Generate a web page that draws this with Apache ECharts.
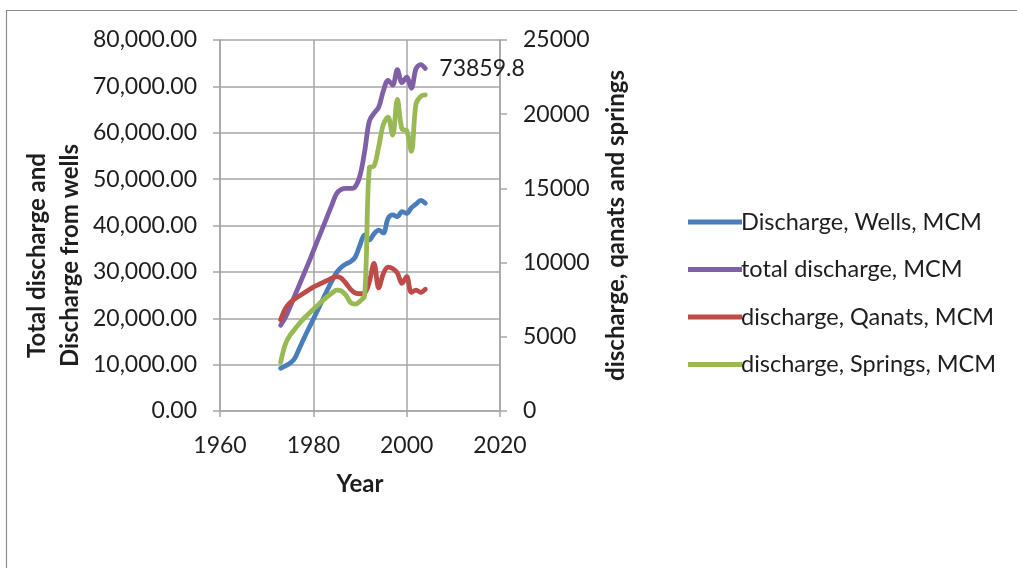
<!DOCTYPE html>
<html>
<head>
<meta charset="utf-8">
<script src="https://cdn.jsdelivr.net/npm/echarts@6/dist/echarts.min.js"></script>
<style>
  html, body { margin: 0; padding: 0; background: #fff; }
  #chart { width: 1017px; height: 568px; }
</style>
</head>
<body>
<div id="chart"></div>
<script>
// Years of record
const years = [1973, 1974, 1975, 1976, 1977, 1978, 1979, 1980, 1981, 1982,
  1983, 1984, 1985, 1986, 1987, 1988, 1989, 1990, 1991, 1992,
  1993, 1994, 1995, 1996, 1997, 1998, 1999, 2000, 2001, 2002, 2003, 2004];

// Discharge from wells, MCM (left axis)
const wells = [9200, 9700, 10300, 11300, 13500, 15700, 17800, 19800, 21900, 24000,
  26100, 28100, 29900, 31000, 31700, 32200, 33200, 35800, 38000, 36900,
  38200, 39000, 38400, 41500, 42300, 41900, 43000, 42600, 43800, 44600, 45400, 44800];

// Total discharge, MCM (left axis)
const total = [18500, 20200, 22400, 24800, 27200, 29600, 32000, 34500, 37000, 39500,
  42000, 44500, 46900, 47800, 48000, 48000, 48400, 50800, 56000, 62500,
  64200, 65500, 69000, 71300, 70300, 73600, 70800, 72000, 69600, 73800, 74700, 73859.8];

// Discharge from qanats, MCM (right axis)
const qanats = [6150, 6900, 7300, 7550, 7750, 7950, 8150, 8350, 8500, 8650,
  8800, 8950, 9050, 8950, 8600, 8200, 7950, 7900, 7950, 8700,
  9950, 8300, 9250, 9700, 9600, 9300, 8600, 9050, 8000, 8150, 8000, 8200];

// Discharge from springs, MCM (right axis)
const springs = [3300, 4500, 5100, 5500, 5900, 6250, 6550, 6850, 7150, 7450,
  7700, 7950, 8150, 8100, 7800, 7300, 7200, 7400, 7800, 16400,
  16500, 17800, 19300, 19800, 18600, 21000, 19000, 18900, 17500, 20700, 21200, 21300];

const xTicks = [1960, 1980, 2000, 2020];
const leftTicks = [0, 10000, 20000, 30000, 40000, 50000, 60000, 70000, 80000];
const rightTicks = [0, 5000, 10000, 15000, 20000, 25000];

const seriesNames = [
  'Discharge, Wells, MCM',
  'total discharge, MCM',
  'discharge, Qanats, MCM',
  'discharge, Springs, MCM'
];

const pairs = vals => years.map((y, i) => [y, vals[i]]);

const FONT = 'Lato, "Open Sans", sans-serif';
const TXT = '#1e1e1e';
const GRID = '#a6a6a6';
const TICK_SIZE = 23;
const TITLE_SIZE = 24;

const chart = echarts.init(document.getElementById('chart'), null, { renderer: 'canvas' });

const lineSeries = (name, vals, color, yAxisIndex) => ({
  name: name,
  type: 'line',
  yAxisIndex: yAxisIndex,
  data: pairs(vals),
  smooth: 0.35,
  showSymbol: false,
  symbol: 'none',
  lineStyle: { color: color, width: 4.8, cap: 'round', join: 'round' },
  itemStyle: { color: color },
  emphasis: { disabled: true },
  animation: false
});

// The total line carries its final value as an end label
const totalSeries = lineSeries(seriesNames[1], total, '#7f5fa6', 0);
totalSeries.endLabel = {
  show: true,
  distance: 14,
  formatter: d => String(d.value[1]),
  fontFamily: FONT,
  fontSize: TICK_SIZE,
  color: TXT
};

chart.setOption({
  backgroundColor: '#fff',
  animation: false,
  graphic: [{
    type: 'rect',
    shape: { x: 6.5, y: 10.5, width: 1040, height: 600 },
    style: { fill: 'none', stroke: '#8c8c8c', lineWidth: 1.2 },
    silent: true
  }],
  grid: { left: 220, right: 517, top: 40, bottom: 157, containLabel: false },
  legend: {
    orient: 'vertical',
    left: 683,
    top: 205,
    itemGap: 23.5,
    itemWidth: 54,
    itemHeight: 6,
    textStyle: { fontFamily: FONT, fontSize: 23.5, color: TXT, padding: [0, 0, 0, -6] },
    data: seriesNames.map(n => ({ name: n, icon: 'path://M0,0 L54,0 L54,5 L0,5 Z' }))
  },
  xAxis: {
    type: 'value',
    min: xTicks[0],
    max: xTicks[xTicks.length - 1],
    interval: 20,
    name: 'Year',
    nameLocation: 'middle',
    nameGap: 61,
    nameTextStyle: { fontFamily: FONT, fontSize: TITLE_SIZE, fontWeight: 'bold', color: TXT },
    axisLine: { show: true, onZero: false, lineStyle: { color: GRID, width: 1.5 } },
    axisTick: { show: true, length: 6, inside: false, lineStyle: { color: GRID, width: 1.5 } },
    axisLabel: { fontFamily: FONT, fontSize: TICK_SIZE, color: TXT, margin: 23, formatter: v => String(v) },
    splitLine: { show: true, lineStyle: { color: GRID, width: 1.5 } }
  },
  yAxis: [{
    type: 'value',
    position: 'left',
    min: leftTicks[0],
    max: leftTicks[leftTicks.length - 1],
    interval: 10000,
    name: 'Total discharge and\nDischarge from wells',
    nameLocation: 'middle',
    nameGap: 133,
    nameRotate: 90,
    nameTextStyle: {
      fontFamily: FONT, fontSize: TITLE_SIZE, fontWeight: 'bold', color: TXT,
      lineHeight: 33, padding: [0, 60, 0, 0]
    },
    axisLine: { show: true, lineStyle: { color: GRID, width: 1.5 } },
    axisTick: { show: true, length: 7, lineStyle: { color: GRID, width: 1.5 } },
    axisLabel: {
      fontFamily: FONT, fontSize: TICK_SIZE, color: TXT, margin: 23,
      formatter: v => v.toLocaleString('en-US', { minimumFractionDigits: 2, maximumFractionDigits: 2 })
    },
    splitLine: { show: true, lineStyle: { color: GRID, width: 1.5 } }
  }, {
    type: 'value',
    position: 'right',
    min: rightTicks[0],
    max: rightTicks[rightTicks.length - 1],
    interval: 5000,
    name: 'discharge, qanats and springs',
    nameLocation: 'middle',
    nameGap: 104,
    nameRotate: 90,
    nameTextStyle: { fontFamily: FONT, fontSize: TITLE_SIZE, fontWeight: 'bold', color: TXT },
    axisLine: { show: true, lineStyle: { color: GRID, width: 1.5 } },
    axisTick: { show: true, length: 7, lineStyle: { color: GRID, width: 1.5 } },
    axisLabel: { fontFamily: FONT, fontSize: TICK_SIZE, color: TXT, margin: 23, formatter: v => String(v) },
    splitLine: { show: false }
  }],
  series: [
    lineSeries(seriesNames[0], wells, '#4a7ebb', 0),
    totalSeries,
    lineSeries(seriesNames[2], qanats, '#be4b48', 1),
    lineSeries(seriesNames[3], springs, '#98b954', 1)
  ]
});
</script>
</body>
</html>
